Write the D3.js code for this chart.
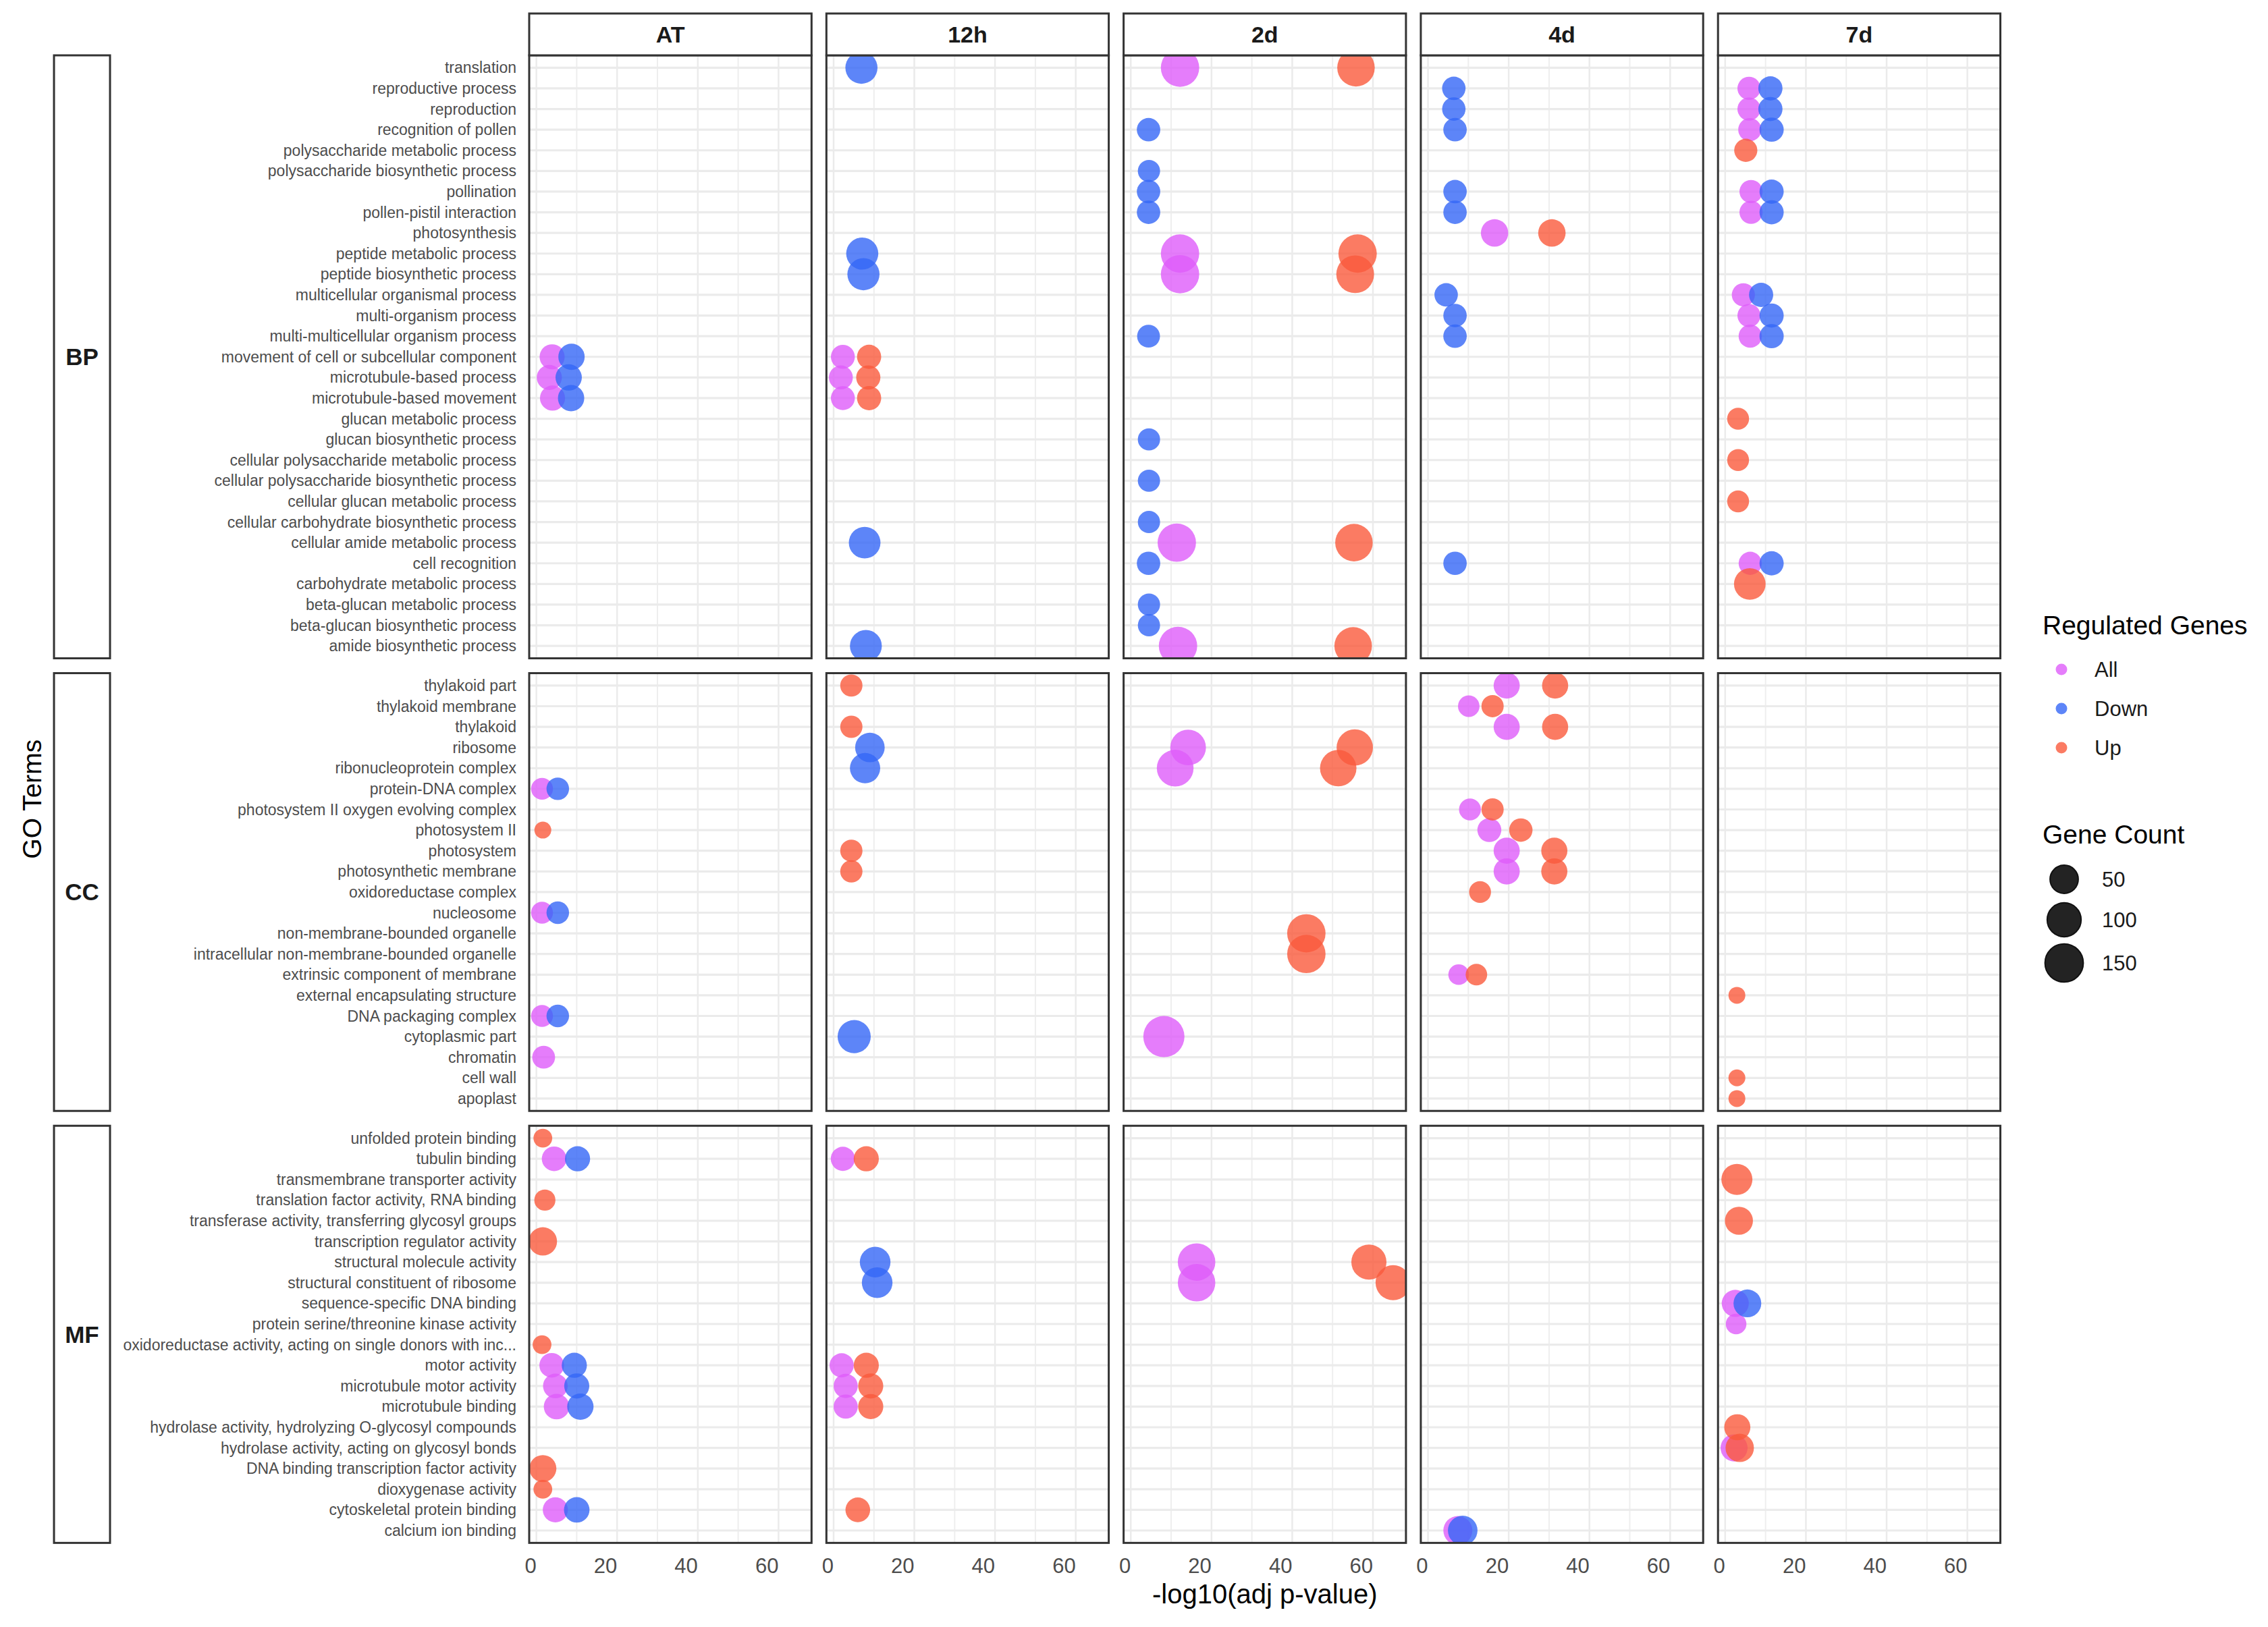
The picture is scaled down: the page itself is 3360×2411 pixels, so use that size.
<!DOCTYPE html>
<html><head><meta charset="utf-8">
<script src="https://cdn.jsdelivr.net/npm/d3@7"></script>
<style>body{margin:0;background:#fff}svg{display:block}</style>
</head><body>
<svg id="chart" width="3360" height="2411"></svg>
<script>
// ---------------- DATA ----------------
const timepoints = ["AT", "12h", "2d", "4d", "7d"];
const ontologies = ["BP", "CC", "MF"];
const bpTerms = ["translation","reproductive process","reproduction","recognition of pollen","polysaccharide metabolic process","polysaccharide biosynthetic process","pollination","pollen-pistil interaction","photosynthesis","peptide metabolic process","peptide biosynthetic process","multicellular organismal process","multi-organism process","multi-multicellular organism process","movement of cell or subcellular component","microtubule-based process","microtubule-based movement","glucan metabolic process","glucan biosynthetic process","cellular polysaccharide metabolic process","cellular polysaccharide biosynthetic process","cellular glucan metabolic process","cellular carbohydrate biosynthetic process","cellular amide metabolic process","cell recognition","carbohydrate metabolic process","beta-glucan metabolic process","beta-glucan biosynthetic process","amide biosynthetic process"];
const ccTerms = ["thylakoid part","thylakoid membrane","thylakoid","ribosome","ribonucleoprotein complex","protein-DNA complex","photosystem II oxygen evolving complex","photosystem II","photosystem","photosynthetic membrane","oxidoreductase complex","nucleosome","non-membrane-bounded organelle","intracellular non-membrane-bounded organelle","extrinsic component of membrane","external encapsulating structure","DNA packaging complex","cytoplasmic part","chromatin","cell wall","apoplast"];
const mfTerms = ["unfolded protein binding","tubulin binding","transmembrane transporter activity","translation factor activity, RNA binding","transferase activity, transferring glycosyl groups","transcription regulator activity","structural molecule activity","structural constituent of ribosome","sequence-specific DNA binding","protein serine/threonine kinase activity","oxidoreductase activity, acting on single donors with inc...","motor activity","microtubule motor activity","microtubule binding","hydrolase activity, hydrolyzing O-glycosyl compounds","hydrolase activity, acting on glycosyl bonds","DNA binding transcription factor activity","dioxygenase activity","cytoskeletal protein binding","calcium ion binding"];
const regulation = ["All", "Down", "Up"];
const xTicks = [0, 20, 40, 60];
const xMinorTicks = [10, 30, 50];
const sizeBreaks = [50, 100, 150];

// [ontology, term, regulation, -log10(adj p-value), gene count]
const atPoints = [
  ["BP","movement of cell or subcellular component","All",3.9,24],
  ["BP","movement of cell or subcellular component","Down",8.7,30],
  ["BP","microtubule-based process","All",3.2,24],
  ["BP","microtubule-based process","Down",8.0,30],
  ["BP","microtubule-based movement","All",4.0,24],
  ["BP","microtubule-based movement","Down",8.6,30],
  ["CC","protein-DNA complex","All",1.4,12],
  ["CC","protein-DNA complex","Down",5.3,14],
  ["CC","photosystem II","Up",1.6,5],
  ["CC","nucleosome","All",1.4,12],
  ["CC","nucleosome","Down",5.3,14],
  ["CC","DNA packaging complex","All",1.4,12],
  ["CC","DNA packaging complex","Down",5.3,14],
  ["CC","chromatin","All",1.8,15],
  ["MF","unfolded protein binding","Up",1.6,6],
  ["MF","tubulin binding","All",4.4,22],
  ["MF","tubulin binding","Down",10.2,24],
  ["MF","translation factor activity, RNA binding","Up",2.1,10],
  ["MF","transcription regulator activity","Up",1.6,42],
  ["MF","oxidoreductase activity, acting on single donors with inc...","Up",1.4,6],
  ["MF","motor activity","All",3.8,22],
  ["MF","motor activity","Down",9.4,24],
  ["MF","microtubule motor activity","All",4.7,22],
  ["MF","microtubule motor activity","Down",10.0,24],
  ["MF","microtubule binding","All",5.0,26],
  ["MF","microtubule binding","Down",10.9,30],
  ["MF","DNA binding transcription factor activity","Up",1.6,34],
  ["MF","dioxygenase activity","Up",1.6,6],
  ["MF","cytoskeletal protein binding","All",4.7,24],
  ["MF","cytoskeletal protein binding","Down",10.0,26]
];
const h12Points = [
  ["BP","translation","Down",6.9,70],
  ["BP","peptide metabolic process","Down",7.1,70],
  ["BP","peptide biosynthetic process","Down",7.4,70],
  ["BP","movement of cell or subcellular component","All",2.3,19],
  ["BP","movement of cell or subcellular component","Up",8.8,20],
  ["BP","microtubule-based process","All",1.8,19],
  ["BP","microtubule-based process","Up",8.6,20],
  ["BP","microtubule-based movement","All",2.3,19],
  ["BP","microtubule-based movement","Up",8.8,20],
  ["BP","cellular amide metabolic process","Down",7.7,66],
  ["BP","amide biosynthetic process","Down",8.0,68],
  ["CC","thylakoid part","Up",4.4,13],
  ["CC","thylakoid","Up",4.4,13],
  ["CC","ribosome","Down",9.0,50],
  ["CC","ribonucleoprotein complex","Down",7.8,55],
  ["CC","photosystem","Up",4.4,13],
  ["CC","photosynthetic membrane","Up",4.4,13],
  ["CC","cytoplasmic part","Down",5.1,79],
  ["MF","tubulin binding","All",2.3,20],
  ["MF","tubulin binding","Up",8.1,24],
  ["MF","structural molecule activity","Down",10.3,58],
  ["MF","structural constituent of ribosome","Down",10.8,58],
  ["MF","motor activity","All",2.0,20],
  ["MF","motor activity","Up",8.1,24],
  ["MF","microtubule motor activity","All",3.0,20],
  ["MF","microtubule motor activity","Up",9.2,24],
  ["MF","microtubule binding","All",3.0,20],
  ["MF","microtubule binding","Up",9.2,24],
  ["MF","cytoskeletal protein binding","Up",6.0,22]
];
const d2Points = [
  ["BP","translation","All",12.2,134],
  ["BP","translation","Up",55.8,124],
  ["BP","recognition of pollen","Down",4.4,17],
  ["BP","polysaccharide biosynthetic process","Down",4.5,13],
  ["BP","pollination","Down",4.4,17],
  ["BP","pollen-pistil interaction","Down",4.4,17],
  ["BP","peptide metabolic process","All",12.2,134],
  ["BP","peptide metabolic process","Up",56.2,134],
  ["BP","peptide biosynthetic process","All",12.2,134],
  ["BP","peptide biosynthetic process","Up",55.6,127],
  ["BP","multi-multicellular organism process","Down",4.4,15],
  ["BP","glucan biosynthetic process","Down",4.5,13],
  ["BP","cellular polysaccharide biosynthetic process","Down",4.5,13],
  ["BP","cellular carbohydrate biosynthetic process","Down",4.5,13],
  ["BP","cellular amide metabolic process","All",11.4,134],
  ["BP","cellular amide metabolic process","Up",55.3,124],
  ["BP","cell recognition","Down",4.4,17],
  ["BP","beta-glucan metabolic process","Down",4.5,13],
  ["BP","beta-glucan biosynthetic process","Down",4.5,13],
  ["BP","amide biosynthetic process","All",11.7,134],
  ["BP","amide biosynthetic process","Up",55.1,124],
  ["CC","ribosome","All",14.2,104],
  ["CC","ribosome","Up",55.5,111],
  ["CC","ribonucleoprotein complex","All",11.0,115],
  ["CC","ribonucleoprotein complex","Up",51.4,112],
  ["CC","non-membrane-bounded organelle","Up",43.5,134],
  ["CC","intracellular non-membrane-bounded organelle","Up",43.5,134],
  ["CC","cytoplasmic part","All",8.2,170],
  ["MF","structural molecule activity","All",16.3,124],
  ["MF","structural molecule activity","Up",59.0,98],
  ["MF","structural constituent of ribosome","All",16.3,124],
  ["MF","structural constituent of ribosome","Up",65.0,98]
];
const d4Points = [
  ["BP","reproductive process","Down",6.4,17],
  ["BP","reproduction","Down",6.4,17],
  ["BP","recognition of pollen","Down",6.7,17],
  ["BP","pollination","Down",6.7,17],
  ["BP","pollen-pistil interaction","Down",6.7,17],
  ["BP","photosynthesis","All",16.5,36],
  ["BP","photosynthesis","Up",30.7,36],
  ["BP","multicellular organismal process","Down",4.5,17],
  ["BP","multi-organism process","Down",6.7,17],
  ["BP","multi-multicellular organism process","Down",6.7,17],
  ["BP","cell recognition","Down",6.7,17],
  ["CC","thylakoid part","All",19.5,29],
  ["CC","thylakoid part","Up",31.5,29],
  ["CC","thylakoid membrane","All",10.1,11],
  ["CC","thylakoid membrane","Up",16.0,13],
  ["CC","thylakoid","All",19.5,29],
  ["CC","thylakoid","Up",31.5,29],
  ["CC","photosystem II oxygen evolving complex","All",10.4,12],
  ["CC","photosystem II oxygen evolving complex","Up",16.0,13],
  ["CC","photosystem II","All",15.2,19],
  ["CC","photosystem II","Up",23.0,17],
  ["CC","photosystem","All",19.5,29],
  ["CC","photosystem","Up",31.3,29],
  ["CC","photosynthetic membrane","All",19.5,29],
  ["CC","photosynthetic membrane","Up",31.3,29],
  ["CC","oxidoreductase complex","Up",12.9,12],
  ["CC","extrinsic component of membrane","All",7.6,9],
  ["CC","extrinsic component of membrane","Up",12.0,11],
  ["MF","calcium ion binding","All",7.4,46],
  ["MF","calcium ion binding","Down",8.6,50]
];
const d7Points = [
  ["BP","reproductive process","All",5.9,16],
  ["BP","reproductive process","Down",11.2,20],
  ["BP","reproduction","All",5.9,16],
  ["BP","reproduction","Down",11.2,20],
  ["BP","recognition of pollen","All",6.1,16],
  ["BP","recognition of pollen","Down",11.5,20],
  ["BP","polysaccharide metabolic process","Up",5.1,16],
  ["BP","pollination","All",6.4,16],
  ["BP","pollination","Down",11.5,20],
  ["BP","pollen-pistil interaction","All",6.4,16],
  ["BP","pollen-pistil interaction","Down",11.5,20],
  ["BP","multicellular organismal process","All",4.5,16],
  ["BP","multicellular organismal process","Down",8.9,20],
  ["BP","multi-organism process","All",5.9,16],
  ["BP","multi-organism process","Down",11.5,20],
  ["BP","multi-multicellular organism process","All",6.2,16],
  ["BP","multi-multicellular organism process","Down",11.5,20],
  ["BP","glucan metabolic process","Up",3.2,12],
  ["BP","cellular polysaccharide metabolic process","Up",3.2,12],
  ["BP","cellular glucan metabolic process","Up",3.2,12],
  ["BP","cell recognition","All",6.2,16],
  ["BP","cell recognition","Down",11.5,20],
  ["BP","carbohydrate metabolic process","Up",6.1,66],
  ["CC","external encapsulating structure","Up",2.9,5],
  ["CC","cell wall","Up",2.9,5],
  ["CC","apoplast","Up",2.9,5],
  ["MF","transmembrane transporter activity","Up",2.9,61],
  ["MF","transferase activity, transferring glycosyl groups","Up",3.4,40],
  ["MF","sequence-specific DNA binding","All",2.5,34],
  ["MF","sequence-specific DNA binding","Down",5.5,38],
  ["MF","protein serine/threonine kinase activity","All",2.7,9],
  ["MF","hydrolase activity, hydrolyzing O-glycosyl compounds","Up",3.0,29],
  ["MF","hydrolase activity, acting on glycosyl bonds","All",2.2,34],
  ["MF","hydrolase activity, acting on glycosyl bonds","Up",3.6,42]
];

// ---------------- STYLE / LAYOUT ----------------
const regColors = {All: "#DF5CFA", Down: "#3466F6", Up: "#FA5A3C"};
const pointAlpha = 0.8;
const font = "'Liberation Sans', Arial, Helvetica, sans-serif";
const unit = 30.6, firstTop = 82, rowGap = 22;
const colLeft0 = 784, colW = 418.3, colGap = 22;
const stripTop = 20, stripH = 62;
const rowStripX = 80, rowStripW = 83;

const pointsByTime = {"AT": atPoints, "12h": h12Points, "2d": d2Points, "4d": d4Points, "7d": d7Points};
const termsByOnt = {BP: bpTerms, CC: ccTerms, MF: mfTerms};

const allPts = [];
timepoints.forEach(t => pointsByTime[t].forEach(r => allPts.push({time: t, ont: r[0], term: r[1], reg: r[2], x: r[3], count: r[4]})));

// x domain like ggplot continuous expansion (5%)
const xExt = d3.extent(allPts, d => d.x);
const xPad = 0.05 * (xExt[1] - xExt[0]);
const xDomain = [xExt[0] - xPad, xExt[1] + xPad];

// size scale (area based, like scale_size)
const cExt = d3.extent(allPts, d => d.count);
const rScale = d3.scaleSqrt().domain([0, cExt[1] - cExt[0]]).range([12.5, 30.5]);
const radius = c => rScale(Math.max(0, c - cExt[0]));

const color = d3.scaleOrdinal().domain(regulation).range(regulation.map(r => regColors[r]));

// row layout
const rows = [];
let curTop = firstTop;
ontologies.forEach(o => {
  const n = termsByOnt[o].length;
  const h = (n - 1 + 1.2) * unit;
  rows.push({ont: o, top: curTop, h, y: d3.scalePoint().domain(termsByOnt[o]).range([curTop, curTop + h]).padding(0.6)});
  curTop += h + rowGap;
});
const cols = timepoints.map((t, i) => {
  const left = colLeft0 + i * (colW + colGap);
  return {time: t, left, x: d3.scaleLinear().domain(xDomain).range([left, left + colW])};
});

const svg = d3.select("#chart");
svg.append("rect").attr("width", 3360).attr("height", 2411).attr("fill", "#fff");
const defs = svg.append("defs");

// ---------------- PANELS ----------------
rows.forEach((row, ri) => {
  cols.forEach((col, ci) => {
    const g = svg.append("g");
    const id = `clip-${ri}-${ci}`;
    defs.append("clipPath").attr("id", id).append("rect")
      .attr("x", col.left).attr("y", row.top).attr("width", colW).attr("height", row.h);
    g.selectAll(".vmin").data(xMinorTicks).join("line")
      .attr("x1", d => col.x(d)).attr("x2", d => col.x(d))
      .attr("y1", row.top).attr("y2", row.top + row.h)
      .attr("stroke", "#EEEEEE").attr("stroke-width", 2);
    g.selectAll(".vmaj").data(xTicks).join("line")
      .attr("x1", d => col.x(d)).attr("x2", d => col.x(d))
      .attr("y1", row.top).attr("y2", row.top + row.h)
      .attr("stroke", "#EBEBEB").attr("stroke-width", 2.5);
    g.selectAll(".hmaj").data(termsByOnt[row.ont]).join("line")
      .attr("x1", col.left).attr("x2", col.left + colW)
      .attr("y1", d => row.y(d)).attr("y2", d => row.y(d))
      .attr("stroke", "#EBEBEB").attr("stroke-width", 3.2);
    const pts = allPts.filter(d => d.time === col.time && d.ont === row.ont)
      .sort((a, b) => regulation.indexOf(a.reg) - regulation.indexOf(b.reg));
    g.append("g").attr("clip-path", `url(#${id})`)
      .selectAll("circle").data(pts).join("circle")
      .attr("cx", d => col.x(d.x)).attr("cy", d => row.y(d.term))
      .attr("r", d => radius(d.count))
      .attr("fill", d => color(d.reg)).attr("fill-opacity", pointAlpha);
    g.append("rect").attr("x", col.left).attr("y", row.top).attr("width", colW).attr("height", row.h)
      .attr("fill", "none").attr("stroke", "#333333").attr("stroke-width", 3);
  });
  svg.append("g").selectAll("text").data(termsByOnt[row.ont]).join("text")
    .attr("x", colLeft0 - 19).attr("y", d => row.y(d)).attr("dy", "0.35em")
    .attr("text-anchor", "end").attr("font-family", font).attr("font-size", 23)
    .attr("fill", "#4D4D4D").text(d => d);
  svg.append("rect").attr("x", rowStripX).attr("y", row.top).attr("width", rowStripW).attr("height", row.h)
    .attr("fill", "#fff").attr("stroke", "#333333").attr("stroke-width", 3);
  svg.append("text").attr("x", rowStripX + rowStripW / 2).attr("y", row.top + row.h / 2).attr("dy", "0.35em")
    .attr("text-anchor", "middle").attr("font-family", font).attr("font-weight", "bold")
    .attr("font-size", 35).attr("fill", "#1A1A1A").text(row.ont);
});

const lastRow = rows[rows.length - 1];
cols.forEach(col => {
  svg.append("rect").attr("x", col.left).attr("y", stripTop).attr("width", colW).attr("height", stripH)
    .attr("fill", "#fff").attr("stroke", "#333333").attr("stroke-width", 3);
  svg.append("text").attr("x", col.left + colW / 2).attr("y", stripTop + stripH / 2).attr("dy", "0.35em")
    .attr("text-anchor", "middle").attr("font-family", font).attr("font-weight", "bold")
    .attr("font-size", 34).attr("fill", "#1A1A1A").text(col.time);
  svg.append("g").selectAll("text").data(xTicks).join("text")
    .attr("x", d => col.x(d)).attr("y", lastRow.top + lastRow.h + 34).attr("dy", "0.35em")
    .attr("text-anchor", "end").attr("font-family", font).attr("font-size", 31)
    .attr("fill", "#4D4D4D").text(d => d);
});

svg.append("text").attr("x", (cols[0].left + cols[4].left + colW) / 2).attr("y", 2362).attr("dy", "0.35em")
  .attr("text-anchor", "middle").attr("font-family", font).attr("font-size", 40).attr("fill", "#000")
  .text("-log10(adj p-value)");
svg.append("text").attr("transform", `translate(47,${(firstTop + lastRow.top + lastRow.h) / 2}) rotate(-90)`)
  .attr("dy", "0.35em").attr("text-anchor", "middle").attr("font-family", font).attr("font-size", 39)
  .attr("fill", "#000").text("GO Terms");

// ---------------- LEGENDS ----------------
const lg = svg.append("g").attr("font-family", font);
lg.append("text").attr("x", 3026).attr("y", 926).attr("dy", "0.35em").attr("font-size", 39).attr("fill", "#000")
  .text("Regulated Genes");
regulation.forEach((r, i) => {
  const y = 992 + i * 58;
  lg.append("circle").attr("cx", 3054).attr("cy", y).attr("r", 8.5).attr("fill", color(r)).attr("fill-opacity", pointAlpha);
  lg.append("text").attr("x", 3103).attr("y", y).attr("dy", "0.35em").attr("font-size", 31).attr("fill", "#1A1A1A").text(r);
});
lg.append("text").attr("x", 3026).attr("y", 1236).attr("dy", "0.35em").attr("font-size", 39).attr("fill", "#000")
  .text("Gene Count");
const sizeY = [1303, 1363, 1427];
sizeBreaks.forEach((b, i) => {
  lg.append("circle").attr("cx", 3058).attr("cy", sizeY[i]).attr("r", radius(b) - 1)
    .attr("fill", "#232323").attr("stroke", "#111").attr("stroke-width", 2);
  lg.append("text").attr("x", 3114).attr("y", sizeY[i]).attr("dy", "0.35em").attr("font-size", 31).attr("fill", "#1A1A1A").text(b);
});
</script>
</body></html>
